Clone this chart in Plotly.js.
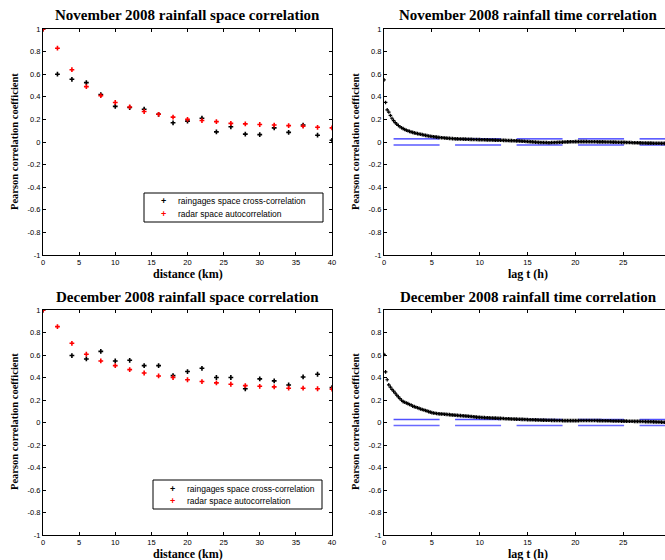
<!DOCTYPE html>
<html>
<head>
<meta charset="utf-8">
<script src="https://cdn.plot.ly/plotly-3.0.1.min.js"></script>
<style>html,body{margin:0;padding:0;background:#fff;}#chart{width:665px;height:560px;}</style>
</head>
<body>
<div id="chart"></div>
<script>
// ---- data ----
const distanceKm = [0,2,4,6,8,10,12,14,16,18,20,22,24,26,28,30,32,34,36,38,40];
const novGauge = [1,0.60,0.555,0.525,0.42,0.315,0.305,0.29,0.245,0.17,0.185,0.21,0.09,0.135,0.07,0.065,0.125,0.085,0.15,0.06,0.015];
const novRadar = [1,0.83,0.64,0.49,0.41,0.35,0.31,0.27,0.245,0.22,0.20,0.19,0.18,0.165,0.16,0.155,0.15,0.145,0.14,0.13,0.125];
const decGauge = [1,null,0.595,0.565,0.632,0.547,0.553,0.506,0.506,0.417,0.453,0.482,0.40,0.40,0.30,0.388,0.37,0.334,0.405,0.429,0.31];
const decRadar = [1,0.852,0.704,0.607,0.547,0.506,0.47,0.44,0.414,0.40,0.38,0.364,0.352,0.34,0.328,0.322,0.317,0.305,0.305,0.30,0.296];

const lagStepH = 1/6; // 10-minute lags
const novTime = [
0.55,0.35,0.285,0.265,0.235,0.21,
0.19,0.172,0.158,0.146,0.135,0.126,
0.118,0.111,0.104,0.099,0.094,0.089,
0.085,0.081,0.077,0.074,0.071,0.068,
0.065,0.062,0.059,0.056,0.053,0.051,
0.049,0.047,0.045,0.043,0.041,0.040,
0.038,0.037,0.036,0.034,0.033,0.032,
0.031,0.030,0.029,0.028,0.028,0.027,
0.026,0.026,0.025,0.025,0.024,0.024,
0.023,0.023,0.022,0.022,0.022,0.021,
0.021,0.020,0.020,0.020,0.019,0.019,
0.018,0.018,0.018,0.017,0.017,0.016,
0.016,0.015,0.015,0.014,0.014,0.013,
0.013,0.012,0.012,0.011,0.011,0.010,
0.010,0.009,0.008,0.007,0.006,0.005,
0.004,0.003,0.002,0.001,0.000,-0.001,
-0.002,-0.003,-0.004,-0.004,-0.005,-0.005,
-0.005,-0.006,-0.006,-0.005,-0.005,-0.004,
-0.004,-0.003,-0.002,-0.002,-0.001,0.000,
0.000,0.001,0.001,0.002,0.002,0.002,
0.003,0.003,0.003,0.003,0.003,0.003,
0.003,0.003,0.002,0.002,0.002,0.002,
0.002,0.002,0.001,0.001,0.001,0.001,
0.001,0.000,0.000,0.000,0.000,-0.001,
-0.001,-0.001,-0.002,-0.002,-0.002,-0.003,
-0.003,-0.003,-0.004,-0.004,-0.005,-0.005,
-0.006,-0.006,-0.007,-0.007,-0.008,-0.008,
-0.009,-0.009,-0.009,-0.010,-0.010,-0.010,
-0.010,-0.011,-0.011,-0.011,-0.011,-0.011,
-0.012,-0.012,-0.012];
const decTime = [
0.605,0.45,0.38,0.335,0.315,0.295,
0.278,0.262,0.244,0.228,0.213,0.198,
0.186,0.180,0.174,0.168,0.160,0.156,
0.145,0.141,0.136,0.131,0.126,0.120,
0.115,0.111,0.107,0.102,0.097,0.092,
0.088,0.085,0.082,0.080,0.078,0.077,
0.076,0.075,0.074,0.072,0.071,0.070,
0.068,0.067,0.066,0.064,0.063,0.062,
0.061,0.060,0.059,0.058,0.057,0.056,
0.054,0.053,0.051,0.050,0.048,0.047,
0.046,0.045,0.044,0.043,0.042,0.042,
0.041,0.040,0.040,0.039,0.039,0.038,
0.037,0.037,0.036,0.035,0.034,0.034,
0.033,0.032,0.031,0.031,0.030,0.030,
0.029,0.029,0.028,0.028,0.027,0.027,
0.026,0.025,0.025,0.024,0.024,0.023,
0.023,0.022,0.022,0.021,0.021,0.021,
0.020,0.020,0.020,0.019,0.019,0.019,
0.018,0.018,0.018,0.018,0.017,0.017,
0.017,0.017,0.017,0.017,0.017,0.017,
0.017,0.017,0.017,0.018,0.018,0.018,
0.018,0.018,0.018,0.018,0.018,0.018,
0.018,0.018,0.017,0.017,0.017,0.016,
0.016,0.016,0.015,0.015,0.015,0.014,
0.014,0.014,0.013,0.013,0.013,0.012,
0.012,0.012,0.012,0.011,0.011,0.011,
0.011,0.010,0.010,0.010,0.010,0.009,
0.009,0.009,0.008,0.008,0.008,0.007,
0.007,0.006,0.006,0.005,0.004,0.004,
0.003,0.002,0.002];
const confLag = [1, 30];
const novConf = 0.027;
const decConf = 0.027;

const yTickVals = [-1,-0.8,-0.6,-0.4,-0.2,0,0.2,0.4,0.6,0.8,1];
const yTickText = ['-1','-0.8','-0.6','-0.4','-0.2','0','0.2','0.4','0.6','0.8','1'];
const gaugeName = 'raingages space cross-correlation';
const radarName = 'radar space autocorrelation';
const titles = ['November 2008 rainfall space correlation','November 2008 rainfall time correlation',
                'December 2008 rainfall space correlation','December 2008 rainfall time correlation'];

// ---- build ----
const novLag = novTime.map((_, i) => i * lagStepH);
const decLag = decTime.map((_, i) => i * lagStepH);

const gaugeColor = '#000000', radarColor = '#ff0000';
const spaceMarker = (c) => ({symbol:'cross', size:4, color:c, line:{width:0}});
const timeMarker = {symbol:'cross', size:3, color:'#000', line:{width:0}};

const traces = [
  {x:distanceKm, y:novGauge, xaxis:'x', yaxis:'y', mode:'markers', name:gaugeName, marker:spaceMarker(gaugeColor), showlegend:false},
  {x:distanceKm, y:novRadar, xaxis:'x', yaxis:'y', mode:'markers', name:radarName, marker:spaceMarker(radarColor), showlegend:false},
  {x:confLag, y:[novConf,novConf], xaxis:'x2', yaxis:'y2', mode:'lines', line:{color:'#2a2aff', width:1.2, dash:'46px,15.5px'}, showlegend:false},
  {x:confLag, y:[-novConf,-novConf], xaxis:'x2', yaxis:'y2', mode:'lines', line:{color:'#8383ff', width:2, dash:'46px,15.5px'}, showlegend:false},
  {x:novLag, y:novTime, xaxis:'x2', yaxis:'y2', mode:'markers', marker:timeMarker, showlegend:false},
  {x:distanceKm, y:decGauge, xaxis:'x3', yaxis:'y3', mode:'markers', name:gaugeName, marker:spaceMarker(gaugeColor), showlegend:false},
  {x:distanceKm, y:decRadar, xaxis:'x3', yaxis:'y3', mode:'markers', name:radarName, marker:spaceMarker(radarColor), showlegend:false},
  {x:confLag, y:[decConf,decConf], xaxis:'x4', yaxis:'y4', mode:'lines', line:{color:'#5050ff', width:1.5, dash:'46px,15.5px'}, showlegend:false},
  {x:confLag, y:[-decConf,-decConf], xaxis:'x4', yaxis:'y4', mode:'lines', line:{color:'#6a6aff', width:1.5, dash:'46px,15.5px'}, showlegend:false},
  {x:decLag, y:decTime, xaxis:'x4', yaxis:'y4', mode:'markers', marker:timeMarker, showlegend:false}
];

const W = 665, H = 560;
const px = (v) => v / W, py = (v) => 1 - v / H;
const sans = 'Liberation Sans, Arial, sans-serif';
const tickFont = {family:sans, size:7.5, color:'#000'};
const serif = 'Liberation Serif, Times New Roman, serif';

function xAx(range, dom, anchor) {
  return {domain:dom, range:range, anchor:anchor, dtick:5, tick0:0, ticks:'inside', ticklen:3, tickcolor:'#000',
          showline:true, linecolor:'#000', linewidth:1, mirror:'ticks', showgrid:false, zeroline:false,
          tickfont:tickFont, fixedrange:true};
}
function yAx(dom, anchor, mirror) {
  return {domain:dom, range:[-1,1], anchor:anchor, tickvals:yTickVals, ticktext:yTickText, ticks:'inside', ticklen:3,
          tickcolor:'#000', showline:true, linecolor:'#000', linewidth:1, mirror:mirror, showgrid:false, zeroline:false,
          tickfont:tickFont, fixedrange:true};
}
const xL = [px(43), px(332)], xR = [px(384), 1];
const yT = [py(255), py(29)], yB = [py(535), py(310)];

function ann(text, x, y, size, angle) {
  return {text:text, x:px(x), y:py(y), xref:'paper', yref:'paper', showarrow:false, xanchor:'center', yanchor:'middle',
          textangle:angle||0, font:{family:serif, size:size, color:'#000', weight:'bold'}};
}
function legText(text, x, y) {
  return {text:text, x:px(x), y:py(y), xref:'paper', yref:'paper', showarrow:false, xanchor:'left', yanchor:'middle',
          font:{family:sans, size:8.5, color:'#000'}};
}
function legMark(color, x, y) {
  return {text:'+', x:px(x), y:py(y), xref:'paper', yref:'paper', showarrow:false, xanchor:'center', yanchor:'middle',
          font:{family:sans, size:9, color:color, weight:'bold'}};
}
// legend boxes (pixel corners): [left, top, right, bottom]
const legTop = [144, 193, 323, 222], legBot = [153, 480, 322, 509];
function legBox(b) {
  return {type:'rect', xref:'paper', yref:'paper', x0:px(b[0]), x1:px(b[2]), y0:py(b[3]), y1:py(b[1]),
          line:{color:'#000', width:1}, fillcolor:'#fff', layer:'above'};
}
function legendAnns(b) {
  const r1 = b[1] + 8.5, r2 = b[1] + 20.5;
  return [legMark(gaugeColor, b[0]+19, r1), legText(gaugeName, b[0]+32, r1),
          legMark(radarColor, b[0]+19, r2), legText(radarName, b[0]+32, r2)];
}

const layout = {
  width:W, height:H, margin:{l:0,r:0,t:0,b:0}, paper_bgcolor:'#fff', plot_bgcolor:'#fff', showlegend:false,
  xaxis: xAx([0,40], xL, 'y'), yaxis: yAx(yT, 'x', 'ticks'),
  xaxis2: xAx([0,29.37], xR, 'y2'), yaxis2: yAx(yT, 'x2', false),
  xaxis3: xAx([0,40], xL, 'y3'), yaxis3: yAx(yB, 'x3', 'ticks'),
  xaxis4: xAx([0,29.37], xR, 'y4'), yaxis4: yAx(yB, 'x4', false),
  shapes: [legBox(legTop), legBox(legBot)],
  annotations: [
    ann(titles[0], 187.5, 15, 15), ann(titles[1], 528, 15, 15),
    ann(titles[2], 187.5, 297, 15), ann(titles[3], 528, 297, 15),
    ann('distance (km)', 187.5, 274, 12), ann('lag t (h)', 528, 274, 12),
    ann('distance (km)', 187.5, 554, 12), ann('lag t (h)', 528, 554, 12),
    ann('Pearson correlation coefficient', 14, 142, 10.5, -90), ann('Pearson correlation coefficient', 355, 142, 10.5, -90),
    ann('Pearson correlation coefficient', 14, 422, 10.5, -90), ann('Pearson correlation coefficient', 355, 422, 10.5, -90)
  ].concat(legendAnns(legTop), legendAnns(legBot))
};

Plotly.newPlot('chart', traces, layout, {staticPlot:true, displayModeBar:false});
</script>
</body>
</html>
